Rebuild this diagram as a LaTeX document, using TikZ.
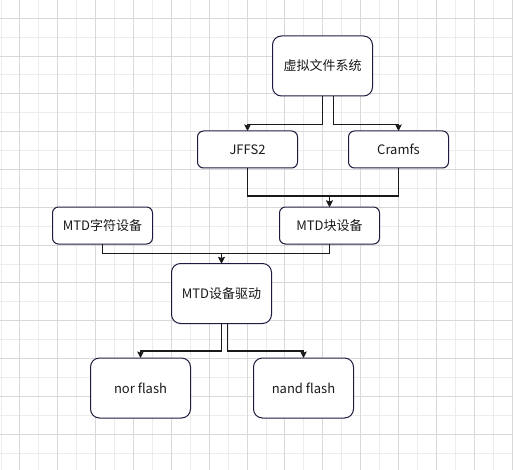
\documentclass[tikz,border=0pt]{standalone}
\usepackage{fontspec}
\setmainfont{Noto Sans CJK SC}
\usetikzlibrary{arrows.meta}
\definecolor{gridmaj}{HTML}{D8D8D8}
\definecolor{gridmin}{HTML}{ECECEC}
\definecolor{boxline}{HTML}{1C1C40}
\definecolor{edgeline}{HTML}{1A1A1A}
\definecolor{txt}{HTML}{1A1A1A}
\begin{document}
\begin{tikzpicture}[x=1pt,y=-1pt,
  box/.style={draw=boxline, line width=1pt, fill=white, rectangle, minimum width=100pt,
    inner sep=0pt, outer sep=0pt, text=txt, font=\fontsize{13pt}{15pt}\selectfont},
  tallbox/.style={box, minimum height=60pt, rounded corners=9pt},
  shortbox/.style={box, minimum height=37pt, rounded corners=6pt},
  arr/.style={draw=edgeline, line width=1.1pt, -{Stealth[length=6.5pt,width=6.5pt,inset=1.2pt]}}]
\useasboundingbox (0,0) rectangle (513,470);
\fill[white] (0,0) rectangle (513,470);
% grid
\foreach \i in {0,2,...,28} {
  \draw[gridmin, line width=1pt] ({1.07+18.925*\i},0) -- ({1.07+18.925*\i},470);
}
\foreach \j in {0,2,...,26} {
  \draw[gridmin, line width=1pt] (0,{-0.6+18.9*\j}) -- (513,{-0.6+18.9*\j});
}
\foreach \i in {1,3,...,27} {
  \draw[gridmaj, line width=1pt] ({1.07+18.925*\i},0) -- ({1.07+18.925*\i},470);
}
\foreach \j in {1,3,...,25} {
  \draw[gridmaj, line width=1pt] (0,{-0.6+18.9*\j}) -- (513,{-0.6+18.9*\j});
}
% nodes
\node[tallbox]  (vfs)  at (322.5,66)    {虚拟文件系统};
\node[shortbox] (jffs) at (247.5,149.5) {JFFS2};
\node[shortbox] (cram) at (398.5,149.5) {Cramfs};
\node[shortbox] (mtdc) at (102.5,225.5) {MTD字符设备};
\node[shortbox] (mtdb) at (329.5,225.5) {MTD块设备};
\node[tallbox]  (drv)  at (221.5,293.5) {MTD设备驱动};
\node[tallbox]  (nor)  at (140.5,388)   {nor flash};
\node[tallbox]  (nand) at (303.5,388)   {nand flash};
% edges
\draw[arr] (vfs.south) -- ++(0,28.3) -| (jffs.north);
\draw[arr] ([xshift=10.8pt]vfs.south) -- ++(0,28.3) -| (cram.north);
\draw[arr] (jffs.south) -- ++(0,28) -| (mtdb.north);
\draw[arr] (cram.south) -- ++(0,28) -| (mtdb.north);
\draw[arr] (mtdc.south) -- ++(0,9.3) -| (drv.north);
\draw[arr] (mtdb.south) -- ++(0,9.3) -| (drv.north);
\draw[arr] (drv.south) -- ++(0,27.5) -| (nor.north);
\draw[arr] ([xshift=5.6pt]drv.south) -- ++(0,27.5) -| (nand.north);
\end{tikzpicture}
\end{document}
